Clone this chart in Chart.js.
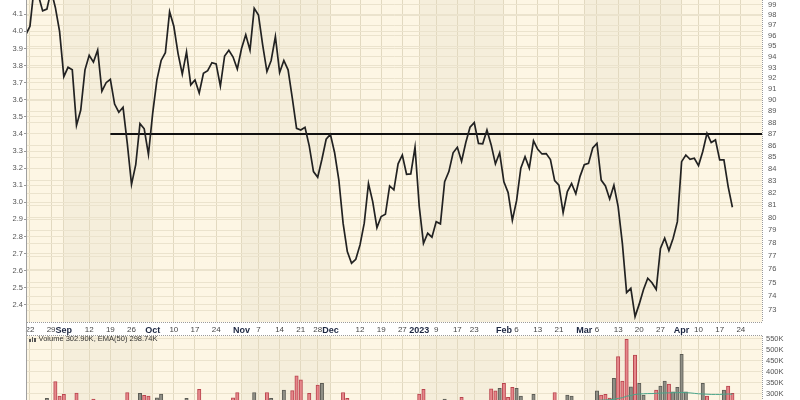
<!DOCTYPE html>
<html>
<head>
<meta charset="utf-8">
<script src="https://cdn.jsdelivr.net/npm/chart.js@4.4.0/dist/chart.umd.min.js"></script>
<style>
  html, body { margin: 0; padding: 0; background: #fff; }
  #wrap { position: relative; width: 800px; height: 400px; overflow: hidden; background: #fff; }
  canvas { display: block; }
  #volLabel {
    position: absolute; left: 29px; top: 334px;
    font: 7.5px "Liberation Sans", Arial, sans-serif; color: #333;
    white-space: nowrap;
  }
  #volLabel i {
    display: inline-block; width: 1.5px; background: #555; margin-right: 1px; vertical-align: -1px;
  }
</style>
</head>
<body>
<div id="wrap">
  <canvas id="priceChart" width="800" height="336"></canvas>
  <!-- taller than the window: the bottom of the volume panel is cut off like in the original -->
  <canvas id="volChart" width="800" height="124"></canvas>
  <div id="volLabel"><i style="height:3px"></i><i style="height:5px"></i><i style="height:4px"></i> Volume 302.90K, EMA(50) 298.74K</div>
</div>
<script>
// trading-day index 0 = Aug 22 2022; first value is Aug 19 (index -1)
const firstIndex = -1;

const priceValues = [
  3.98, 4.03, 4.26, 4.21, 4.12, 4.13, 4.24, 4.14, 4.00, 3.735, 3.79, 3.775,
  3.45, 3.54, 3.775, 3.86, 3.82, 3.89, 3.65, 3.70, 3.72, 3.575, 3.527, 3.556,
  3.345, 3.105, 3.22, 3.46, 3.43, 3.28, 3.52, 3.716, 3.83, 3.875, 4.115, 4.03,
  3.87, 3.75, 3.88, 3.687, 3.716, 3.64, 3.755, 3.77, 3.817, 3.81, 3.68, 3.856,
  3.89, 3.85, 3.78, 3.90, 3.98, 3.89, 4.135, 4.096, 3.92, 3.765, 3.83, 3.97,
  3.76, 3.83, 3.775, 3.61, 3.433, 3.423, 3.439, 3.33, 3.18, 3.147, 3.252, 3.369,
  3.398, 3.29, 3.13, 2.878, 2.712, 2.644, 2.667, 2.751, 2.878, 3.11, 3.004, 2.852,
  2.917, 2.93, 3.096, 3.073, 3.225, 3.277, 3.164, 3.166, 3.322, 2.975, 2.76, 2.819,
  2.796, 2.887, 2.874, 3.121, 3.18, 3.29, 3.322, 3.24, 3.35, 3.439, 3.466, 3.345,
  3.342, 3.423, 3.336, 3.225, 3.29, 3.12, 3.057, 2.895, 3.01, 3.20, 3.267, 3.20,
  3.36, 3.31, 3.283, 3.285, 3.25, 3.127, 3.10, 2.94, 3.063, 3.11, 3.05, 3.152,
  3.22, 3.228, 3.318, 3.345, 3.13, 3.096, 3.02, 3.10, 2.975, 2.76, 2.472, 2.497,
  2.332, 2.406, 2.49, 2.556, 2.53, 2.49, 2.73, 2.79, 2.718, 2.79, 2.887, 3.238,
  3.277, 3.252, 3.258, 3.215, 3.297, 3.404, 3.35, 3.365, 3.248, 3.248, 3.092, 2.971
];

// volume in thousands; u = up day (grey), d = down day (red)
const volumeValues = [
  240, 240, 240, 240, 240, 280, 240, 356, 291, 298, 240, 240,
  304, 240, 240, 240, 277, 240, 240, 240, 240, 240, 240, 240,
  306, 240, 240, 303, 294, 290, 240, 283, 300, 240, 240, 240,
  240, 240, 280, 240, 240, 321, 240, 240, 240, 240, 240, 240,
  240, 283, 306, 240, 240, 240, 307, 240, 240, 307, 280, 240,
  240, 318, 240, 315, 382, 364, 240, 303, 240, 341, 349, 240,
  240, 240, 240, 307, 280, 240, 240, 240, 240, 240, 240, 240,
  240, 240, 240, 240, 240, 240, 240, 240, 240, 300, 321, 240,
  240, 240, 240, 277, 240, 240, 240, 285, 240, 240, 240, 240,
  240, 240, 323, 314, 326, 349, 285, 330, 326, 291, 240, 240,
  298, 240, 240, 240, 240, 306, 240, 240, 295, 291, 240, 240,
  240, 240, 240, 314, 295, 298, 281, 371, 470, 359, 549, 333,
  477, 349, 295, 240, 240, 318, 336, 359, 345, 310, 330, 480,
  310, 240, 240, 240, 349, 291, 240, 240, 240, 318, 336, 303
];
const volumeDir =
  'uuuuuuuddduu' + 'duuuduuuuuuu' + 'duuudduuuuuu' + 'uuuuuduuuuuu' +
  'udduuuuuuduu' + 'uuudddududuu' + 'uuudduuuuuuu' + 'uuuuuuuuuddu' +
  'uuuuuuuduuuu' + 'uudduddduuuu' + 'uuuuuduuuuuu' + 'uuuudddudddu' +
  'duuuuduuduuu' + 'uuuuuduuuudd';

const emaValues = Array(130).fill(null).concat([
  262, 263, 264, 266, 268, 270, 272, 273, 274, 276, 280, 283,
  290, 293, 298, 300, 301, 302, 302, 303, 304, 305, 305, 306,
  306, 307, 306, 305, 303, 301, 300, 299, 298, 298, 298, 299, 300, 299
]);

const levelValue = 3.4;
const levelStart = 19;

const tickIndex = [0, 5, 8, 14, 19, 24, 29, 34, 39, 44, 50, 54, 59, 64, 68, 71,
  78, 83, 88, 92, 96, 101, 105, 112, 115, 120, 125, 131, 134, 139, 144, 149,
  154, 158, 163, 168];
const tickText = ['22', '29', 'Sep', '12', '19', '26', 'Oct', '10', '17', '24',
  'Nov', '7', '14', '21', '28', 'Dec', '12', '19', '27', '2023', '9', '17', '23',
  'Feb', '6', '13', '21', 'Mar', '6', '13', '20', '27', 'Apr', '10', '17', '24'];
const monthText = ['Sep', 'Oct', 'Nov', 'Dec', '2023', 'Feb', 'Mar', 'Apr'];
// shaded months: Sep, Nov, Jan, Mar (start/end trading index)
const shadedMonths = [[8, 29], [50, 71], [92, 112], [131, 154]];

const leftTicks = [2.4, 2.5, 2.6, 2.7, 2.8, 2.9, 3.0, 3.1, 3.2, 3.3, 3.4, 3.5,
  3.6, 3.7, 3.8, 3.9, 4.0, 4.1];
const rightTicks = [73, 74, 75, 76, 77, 78, 79, 80, 81, 82, 83, 84, 85, 86, 87,
  88, 89, 90, 91, 92, 93, 94, 95, 96, 97, 98, 99];
const volumeTicks = [0, 50, 100, 150, 200, 250, 300, 350, 400, 450, 500, 550];

// right scale is not linear against the left one
function rightToLeft(r) {
  const a = 51.18, b = 6.15, c = 1.29;
  return (-b + Math.sqrt(b * b - 4 * c * (a - r))) / (2 * c);
}

const X_MIN = -0.7, X_MAX = 173;
const BG = '#fdf6e4', SHADE = '#f5eedb', GRID = '#e2d9c0', GRID_H = '#ebe3cd';
const FONT = '"Liberation Sans", Arial, sans-serif';

// keep the plot flush with the canvas edges
const noPad = w => s => {
  if (w.width !== undefined) s.width = w.width;
  if (w.height !== undefined) s.height = w.height;
  s.paddingTop = 0; s.paddingBottom = 0; s.paddingLeft = 0; s.paddingRight = 0;
};

const backdrop = {
  id: 'backdrop',
  beforeDraw(chart) {
    const { ctx, chartArea: a, scales } = chart;
    ctx.save();
    ctx.fillStyle = BG;
    ctx.fillRect(a.left, a.top, a.width, a.height);
    ctx.fillStyle = SHADE;
    shadedMonths.forEach(([s, e]) => {
      const x1 = scales.x.getPixelForValue(s), x2 = scales.x.getPixelForValue(e);
      ctx.fillRect(x1, a.top, x2 - x1, a.height);
    });
    ctx.restore();
  },
  afterDraw(chart) {
    const { ctx, chartArea: a } = chart;
    const isPrice = chart.canvas.id === 'priceChart';
    ctx.save();
    ctx.strokeStyle = '#9a9a9a';
    ctx.lineWidth = 1;
    ctx.setLineDash([1, 1]);
    ctx.beginPath();
    if (isPrice) {
      ctx.moveTo(a.left, a.bottom + 0.5); ctx.lineTo(a.right, a.bottom + 0.5);
      ctx.moveTo(a.left, chart.height - 0.5); ctx.lineTo(a.right, chart.height - 0.5);
    }
    ctx.moveTo(a.right + 0.5, a.top); ctx.lineTo(a.right + 0.5, a.bottom);
    ctx.stroke();
    ctx.setLineDash([]);
    ctx.strokeStyle = '#a0a0a0';
    ctx.beginPath();
    ctx.moveTo(a.left - 0.5, a.top); ctx.lineTo(a.left - 0.5, isPrice ? chart.height : a.bottom);
    ctx.stroke();
    ctx.restore();
  }
};

const weekTicks = scale => { scale.ticks = tickIndex.map(v => ({ value: v })); };

new Chart(document.getElementById('priceChart'), {
  type: 'line',
  data: {
    datasets: [{
      data: priceValues.map((v, i) => ({ x: i + firstIndex, y: v })),
      borderColor: '#222',
      borderWidth: 1.7,
      pointRadius: 0,
      tension: 0
    }, {
      data: [{ x: levelStart, y: levelValue }, { x: X_MAX, y: levelValue }],
      borderColor: '#111',
      borderWidth: 2,
      pointRadius: 0
    }]
  },
  options: {
    responsive: false,
    animation: false,
    events: [],
    layout: { padding: 0 },
    plugins: { legend: { display: false }, tooltip: { enabled: false } },
    scales: {
      x: {
        type: 'linear', min: X_MIN, max: X_MAX,
        afterBuildTicks: weekTicks,
        afterFit: noPad({ height: 14 }),
        border: { display: false },
        grid: { color: GRID, drawTicks: false },
        ticks: {
          autoSkip: false, maxRotation: 0, padding: 3,
          callback: (v, i) => tickText[i],
          color: ctx => monthText.includes(tickText[ctx.index]) ? '#1c2640' : '#444',
          font: ctx => monthText.includes(tickText[ctx.index])
            ? { family: FONT, size: 9, weight: 'bold' }
            : { family: FONT, size: 8 }
        }
      },
      y: {
        position: 'left', min: 2.30, max: 4.1836,
        afterBuildTicks: s => { s.ticks = leftTicks.map(v => ({ value: v })); },
        afterFit: noPad({ width: 27 }),
        border: { display: false },
        grid: { color: GRID_H, tickColor: '#999', tickLength: 3 },
        ticks: {
          autoSkip: false, padding: 1, color: '#555',
          font: { family: FONT, size: 7.5 },
          callback: (v, i) => leftTicks[i].toFixed(1)
        }
      },
      y2: {
        position: 'right', min: 2.30, max: 4.1836,
        afterBuildTicks: s => { s.ticks = rightTicks.map(r => ({ value: rightToLeft(r) })); },
        afterFit: noPad({ width: 38 }),
        border: { display: false },
        grid: { color: GRID_H, drawTicks: false },
        ticks: {
          autoSkip: false, padding: 6, color: '#555',
          font: { family: FONT, size: 7.5 },
          callback: (v, i) => rightTicks[i]
        }
      }
    }
  },
  plugins: [backdrop]
});

new Chart(document.getElementById('volChart'), {
  type: 'bar',
  data: {
    datasets: [{
      type: 'line',
      data: emaValues.map((v, i) => ({ x: i + firstIndex, y: v })),
      borderColor: '#4aa58a',
      borderWidth: 1,
      pointRadius: 0,
      spanGaps: false,
      order: 0
    }, {
      data: volumeValues.map((v, i) => ({ x: i + firstIndex, y: v })),
      backgroundColor: volumeDir.split('').map(d => d === 'd' ? '#e5878b' : '#8f8f86'),
      borderColor: volumeDir.split('').map(d => d === 'd' ? '#b9444d' : '#5c5c55'),
      borderWidth: 1,
      barThickness: 3.4,
      order: 1
    }]
  },
  options: {
    responsive: false,
    animation: false,
    events: [],
    layout: { padding: { left: 27, top: 0 } },
    plugins: { legend: { display: false }, tooltip: { enabled: false } },
    scales: {
      x: {
        type: 'linear', min: X_MIN, max: X_MAX, offset: false,
        afterBuildTicks: weekTicks,
        afterFit: noPad({ height: 0 }),
        border: { display: false },
        grid: { color: GRID, drawTicks: false, offset: false },
        ticks: { display: false }
      },
      y: {
        position: 'right', min: 0, max: 563.6,
        afterBuildTicks: s => { s.ticks = volumeTicks.map(v => ({ value: v })); },
        afterFit: noPad({ width: 38 }),
        border: { display: false },
        grid: { color: GRID_H, drawTicks: false },
        ticks: {
          autoSkip: false, padding: 4, color: '#555',
          font: { family: FONT, size: 7.5 },
          callback: (v, i) => volumeTicks[i] + 'K'
        }
      }
    }
  },
  plugins: [backdrop]
});
</script>
</body>
</html>
